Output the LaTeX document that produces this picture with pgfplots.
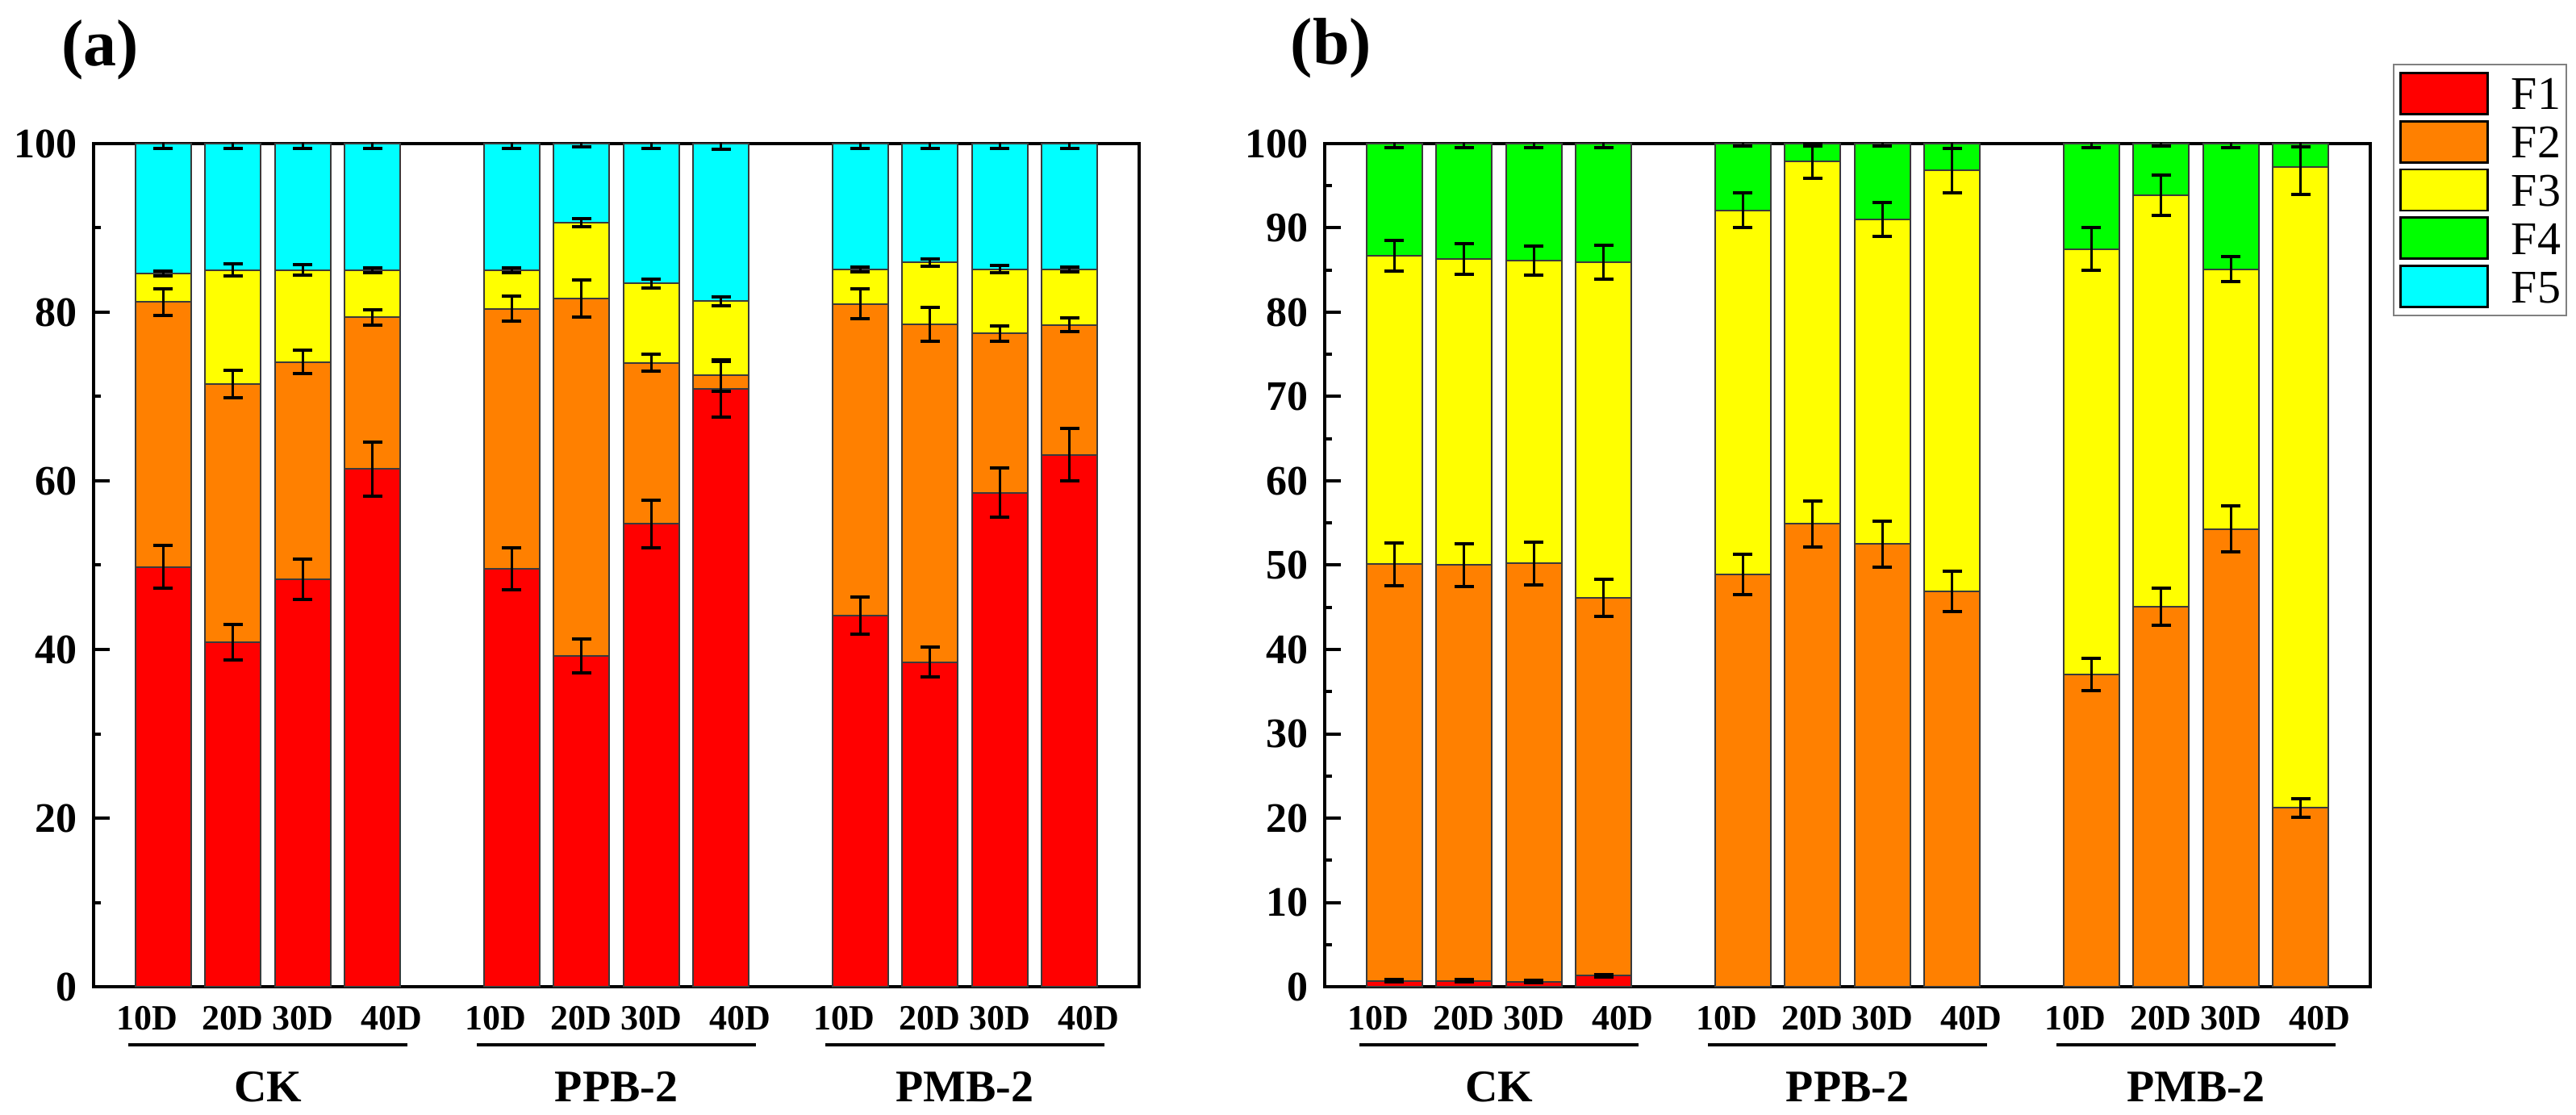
\documentclass[border=0pt]{standalone}
\usepackage{fontspec}
\setmainfont{Liberation Serif}
\usepackage{pgfplots}
\usepackage{pgfplotstable}
\pgfplotsset{compat=1.18}

\definecolor{cF1}{HTML}{FF0000}
\definecolor{cF2}{HTML}{FF8000}
\definecolor{cF3}{HTML}{FFFF00}
\definecolor{cF4}{HTML}{00FF00}
\definecolor{cF5}{HTML}{00FFFF}
\definecolor{bardraw}{HTML}{3A3A3A}

% panel (a): cumulative tops of F1, F1+F2, F1+F2+F3, total, with SD
\pgfplotstableread{
x  c1   e1  c2   e2  c3   e3   c5  e5
0  49.8 2.5 81.2 1.6 84.6 0.3  100 0.6
1  40.9 2.1 71.5 1.6 85.0 0.7  100 0.6
2  48.3 2.4 74.1 1.4 85.0 0.6  100 0.6
3  61.4 3.2 79.4 0.9 85.0 0.3  100 0.6
5  49.6 2.5 80.4 1.5 85.0 0.3  100 0.6
6  39.2 2.0 81.6 2.2 90.6 0.5  100 0.4
7  54.9 2.8 74.0 1.0 83.4 0.5  100 0.6
8  70.9 3.3 72.5 1.9 81.3 0.5  100 0.7
10 44.0 2.2 81.0 1.8 85.1 0.3  100 0.6
11 38.5 1.8 78.6 2.0 85.9 0.4  100 0.6
12 58.6 2.9 77.5 0.9 85.1 0.45 100 0.6
13 63.1 3.1 78.5 0.8 85.1 0.3  100 0.6
}\dataA

% panel (b): cumulative tops of F2(+F1), F1+F2+F3, total, with SD
\pgfplotstableread{
x  c2   e2  c3   e3  c4  e4
0  50.1 2.5 86.7 1.8 100 0.5
1  50.0 2.5 86.3 1.8 100 0.5
2  50.2 2.5 86.1 1.7 100 0.5
3  46.1 2.2 85.9 2.0 100 0.5
5  48.9 2.4 92.1 2.1 100 0.3
6  54.9 2.7 97.9 2.0 100 0.3
7  52.5 2.7 91.0 2.0 100 0.3
8  46.9 2.4 96.8 2.6 100 0.6
10 37.0 1.9 87.5 2.5 100 0.5
11 45.1 2.2 93.9 2.4 100 0.3
12 54.3 2.7 85.1 1.5 100 0.5
13 21.2 1.1 97.2 3.2 100 0.4
}\dataB

% panel (b): F1 (only CK has a visible amount)
\pgfplotstableread{
x c1  e1
0 0.7 0.15
1 0.7 0.15
2 0.6 0.15
3 1.3 0.15
}\dataBone

\pgfplotsset{
  mybar/.style={ybar, bar width=0.8, bar shift=0pt, draw=bardraw, line width=0.5pt, forget plot},
  myerr/.style={draw=none, mark=none, forget plot,
    error bars/.cd, y dir=both, y explicit,
    error bar style={draw=black, line width=0.75pt, solid},
    error mark options={draw=black, rotate=90, mark size=3pt, line width=1pt}},
  panel/.style={
    scale only axis, width=324pt, height=261.25pt,
    xmin=-1, xmax=14, ymin=0, ymax=100, enlargelimits=false,
    clip mode=individual,
    axis line style={line width=1.1pt},
    tick align=inside, ytick pos=left,
    major tick length=5pt, minor tick length=2.25pt,
    every tick/.style={black, line width=1pt},
    xtick={-0.23,1,2,3.27,4.77,6,7,8.27,9.77,11,12,13.27},
    xticklabels={10D,20D,30D,40D,10D,20D,30D,40D,10D,20D,30D,40D},
    x tick style={draw=none},
    xticklabel style={font=\bfseries\fontsize{11}{11}\selectfont, yshift=-2.5pt},
    yticklabel style={font=\bfseries\fontsize{13}{13}\selectfont, xshift=-1.5pt},
    /pgf/number format/assume math mode=true,
  },
}

\begin{document}
\begin{tikzpicture}
\useasboundingbox (0,0) rectangle (798.25pt,345.5pt);

% ---------------- panel (a) ----------------
\begin{axis}[panel, at={(29pt,39.75pt)}, anchor=south west,
  ytick={0,20,40,60,80,100}, minor y tick num=1]
\addplot[mybar, fill=cF5] table[x=x,y=c5]{\dataA};
\addplot[mybar, fill=cF3] table[x=x,y=c3]{\dataA};
\addplot[mybar, fill=cF2] table[x=x,y=c2]{\dataA};
\addplot[mybar, fill=cF1] table[x=x,y=c1]{\dataA};
\addplot[myerr] table[x=x,y=c5,y error=e5]{\dataA};
\addplot[myerr] table[x=x,y=c3,y error=e3]{\dataA};
\addplot[myerr] table[x=x,y=c2,y error=e2]{\dataA};
\addplot[myerr] table[x=x,y=c1,y error=e1]{\dataA};
\draw[line width=1.1pt] ([yshift=-18pt]axis cs:-0.5,0) -- ([yshift=-18pt]axis cs:3.5,0);
\draw[line width=1.1pt] ([yshift=-18pt]axis cs:4.5,0) -- ([yshift=-18pt]axis cs:8.5,0);
\draw[line width=1.1pt] ([yshift=-18pt]axis cs:9.5,0) -- ([yshift=-18pt]axis cs:13.5,0);
\node[font=\bfseries\fontsize{14}{14}\selectfont] at ([yshift=-31pt]axis cs:1.5,0) {CK};
\node[font=\bfseries\fontsize{14}{14}\selectfont] at ([yshift=-31pt]axis cs:6.5,0) {PPB-2};
\node[font=\bfseries\fontsize{14}{14}\selectfont] at ([yshift=-31pt]axis cs:11.5,0) {PMB-2};
\end{axis}

% ---------------- panel (b) ----------------
\begin{axis}[panel, at={(410.5pt,39.75pt)}, anchor=south west,
  ytick={0,10,...,100}, minor y tick num=1,
  legend cell align=left,
  legend image code/.code={\draw[#1, draw=black, line width=0.7pt] (0pt,-6.375pt) rectangle (27pt,6.375pt);},
  legend style={at={(1.0216,1.0947)}, anchor=north west, draw=gray, line width=0.5pt,
    inner xsep=1.75pt, inner ysep=2.25pt,
    font=\fontsize{14.5}{14.5}\selectfont, row sep=1.5pt,
    nodes={inner sep=0pt, text height=10pt, text depth=0pt},
    /tikz/every odd column/.append style={column sep=7pt}}]
\addplot[mybar, fill=cF4] table[x=x,y=c4]{\dataB};
\addplot[mybar, fill=cF3] table[x=x,y=c3]{\dataB};
\addplot[mybar, fill=cF2] table[x=x,y=c2]{\dataB};
\addplot[mybar, fill=cF1] table[x=x,y=c1]{\dataBone};
\addplot[myerr] table[x=x,y=c4,y error=e4]{\dataB};
\addplot[myerr] table[x=x,y=c3,y error=e3]{\dataB};
\addplot[myerr] table[x=x,y=c2,y error=e2]{\dataB};
\addplot[myerr] table[x=x,y=c1,y error=e1]{\dataBone};
\addlegendimage{fill=cF1}\addlegendentry{F1}
\addlegendimage{fill=cF2}\addlegendentry{F2}
\addlegendimage{fill=cF3}\addlegendentry{F3}
\addlegendimage{fill=cF4}\addlegendentry{F4}
\addlegendimage{fill=cF5}\addlegendentry{F5}
\draw[line width=1.1pt] ([yshift=-18pt]axis cs:-0.5,0) -- ([yshift=-18pt]axis cs:3.5,0);
\draw[line width=1.1pt] ([yshift=-18pt]axis cs:4.5,0) -- ([yshift=-18pt]axis cs:8.5,0);
\draw[line width=1.1pt] ([yshift=-18pt]axis cs:9.5,0) -- ([yshift=-18pt]axis cs:13.5,0);
\node[font=\bfseries\fontsize{14}{14}\selectfont] at ([yshift=-31pt]axis cs:1.5,0) {CK};
\node[font=\bfseries\fontsize{14}{14}\selectfont] at ([yshift=-31pt]axis cs:6.5,0) {PPB-2};
\node[font=\bfseries\fontsize{14}{14}\selectfont] at ([yshift=-31pt]axis cs:11.5,0) {PMB-2};
\end{axis}

\node[font=\bfseries\fontsize{20.5}{20.5}\selectfont] at (31pt,330pt) {(a)};
\node[font=\bfseries\fontsize{20.5}{20.5}\selectfont] at (412.5pt,330.5pt) {(b)};
\end{tikzpicture}
\end{document}
